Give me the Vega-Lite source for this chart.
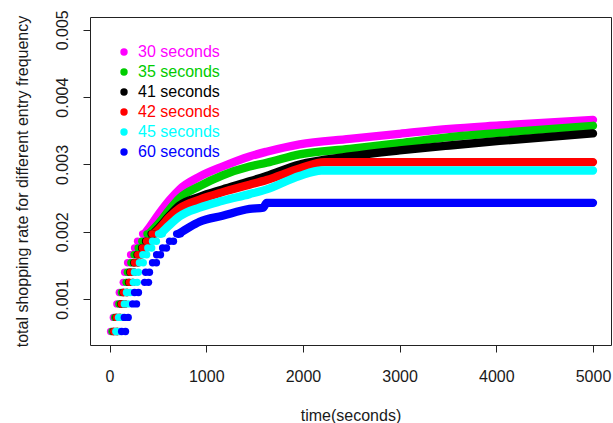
{
  "$schema": "https://vega.github.io/schema/vega-lite/v6.json",
  "width": 521,
  "height": 328,
  "autosize": {"type": "none"},
  "padding": {"left": 90, "top": 17, "right": 2, "bottom": 78},
  "background": "white",
  "config": {"view": {"stroke": "#222222", "strokeWidth": 1}, "font": "Liberation Sans"},
  "datasets": {
    "curves": [
      {"s": "30 seconds", "t": 362, "v": 0.00197}, {"s": "30 seconds", "t": 414, "v": 0.00207}, {"s": "30 seconds", "t": 517, "v": 0.00228}, {"s": "30 seconds", "t": 620, "v": 0.00247}, {"s": "30 seconds", "t": 724, "v": 0.00263}, {"s": "30 seconds", "t": 931, "v": 0.00282}, {"s": "30 seconds", "t": 1169, "v": 0.00297}, {"s": "30 seconds", "t": 1448, "v": 0.00312}, {"s": "30 seconds", "t": 1624, "v": 0.00319}, {"s": "30 seconds", "t": 1965, "v": 0.0033}, {"s": "30 seconds", "t": 2482, "v": 0.00338}, {"s": "30 seconds", "t": 2999, "v": 0.003456}, {"s": "30 seconds", "t": 3516, "v": 0.00353}, {"s": "30 seconds", "t": 4033, "v": 0.00358}, {"s": "30 seconds", "t": 5000, "v": 0.003664},
      {"s": "35 seconds", "t": 407, "v": 0.00197}, {"s": "35 seconds", "t": 517, "v": 0.00214}, {"s": "35 seconds", "t": 620, "v": 0.00233}, {"s": "35 seconds", "t": 724, "v": 0.0025}, {"s": "35 seconds", "t": 931, "v": 0.00268}, {"s": "35 seconds", "t": 1169, "v": 0.00284}, {"s": "35 seconds", "t": 1448, "v": 0.00297}, {"s": "35 seconds", "t": 1624, "v": 0.003025}, {"s": "35 seconds", "t": 1965, "v": 0.00315}, {"s": "35 seconds", "t": 2482, "v": 0.003233}, {"s": "35 seconds", "t": 2999, "v": 0.003318}, {"s": "35 seconds", "t": 3516, "v": 0.003407}, {"s": "35 seconds", "t": 4033, "v": 0.00347}, {"s": "35 seconds", "t": 5000, "v": 0.003575},
      {"s": "41 seconds", "t": 450, "v": 0.00197}, {"s": "41 seconds", "t": 517, "v": 0.00207}, {"s": "41 seconds", "t": 620, "v": 0.00224}, {"s": "41 seconds", "t": 724, "v": 0.00239}, {"s": "41 seconds", "t": 931, "v": 0.00252}, {"s": "41 seconds", "t": 1169, "v": 0.00263}, {"s": "41 seconds", "t": 1448, "v": 0.00275}, {"s": "41 seconds", "t": 1624, "v": 0.00283}, {"s": "41 seconds", "t": 1965, "v": 0.003}, {"s": "41 seconds", "t": 2482, "v": 0.00312}, {"s": "41 seconds", "t": 2999, "v": 0.003208}, {"s": "41 seconds", "t": 3516, "v": 0.003282}, {"s": "41 seconds", "t": 4033, "v": 0.00335}, {"s": "41 seconds", "t": 5000, "v": 0.003461},
      {"s": "42 seconds", "t": 460, "v": 0.00197}, {"s": "42 seconds", "t": 517, "v": 0.00205}, {"s": "42 seconds", "t": 620, "v": 0.00222}, {"s": "42 seconds", "t": 724, "v": 0.00235}, {"s": "42 seconds", "t": 931, "v": 0.00248}, {"s": "42 seconds", "t": 1169, "v": 0.00259}, {"s": "42 seconds", "t": 1448, "v": 0.0027}, {"s": "42 seconds", "t": 1624, "v": 0.00277}, {"s": "42 seconds", "t": 1965, "v": 0.00294}, {"s": "42 seconds", "t": 2223, "v": 0.003036}, {"s": "42 seconds", "t": 5000, "v": 0.003036},
      {"s": "45 seconds", "t": 527, "v": 0.00197}, {"s": "45 seconds", "t": 620, "v": 0.0021}, {"s": "45 seconds", "t": 724, "v": 0.00223}, {"s": "45 seconds", "t": 931, "v": 0.00236}, {"s": "45 seconds", "t": 1169, "v": 0.00246}, {"s": "45 seconds", "t": 1448, "v": 0.00256}, {"s": "45 seconds", "t": 1624, "v": 0.00263}, {"s": "45 seconds", "t": 1965, "v": 0.00283}, {"s": "45 seconds", "t": 2192, "v": 0.002911}, {"s": "45 seconds", "t": 5000, "v": 0.002911},
      {"s": "60 seconds", "t": 714, "v": 0.00197}, {"s": "60 seconds", "t": 827, "v": 0.00207}, {"s": "60 seconds", "t": 931, "v": 0.00215}, {"s": "60 seconds", "t": 1169, "v": 0.00224}, {"s": "60 seconds", "t": 1448, "v": 0.00234}, {"s": "60 seconds", "t": 1590, "v": 0.00236}, {"s": "60 seconds", "t": 1624, "v": 0.002431}, {"s": "60 seconds", "t": 5000, "v": 0.002431}
    ],
    "dots": [
      {"s": "30 seconds", "t": 1, "v": 0.00026}, {"s": "30 seconds", "t": 41, "v": 0.00026}, {"s": "30 seconds", "t": 11, "v": 0.00052}, {"s": "30 seconds", "t": 51, "v": 0.00052}, {"s": "30 seconds", "t": 39, "v": 0.00073}, {"s": "30 seconds", "t": 79, "v": 0.00073}, {"s": "30 seconds", "t": 76, "v": 0.00093}, {"s": "30 seconds", "t": 116, "v": 0.00093}, {"s": "30 seconds", "t": 101, "v": 0.0011}, {"s": "30 seconds", "t": 141, "v": 0.0011}, {"s": "30 seconds", "t": 142, "v": 0.00125}, {"s": "30 seconds", "t": 182, "v": 0.00125}, {"s": "30 seconds", "t": 156, "v": 0.0014}, {"s": "30 seconds", "t": 196, "v": 0.0014}, {"s": "30 seconds", "t": 187, "v": 0.00154}, {"s": "30 seconds", "t": 227, "v": 0.00154}, {"s": "30 seconds", "t": 218, "v": 0.00166}, {"s": "30 seconds", "t": 258, "v": 0.00166}, {"s": "30 seconds", "t": 259, "v": 0.00176}, {"s": "30 seconds", "t": 299, "v": 0.00176}, {"s": "30 seconds", "t": 290, "v": 0.00186}, {"s": "30 seconds", "t": 330, "v": 0.00186}, {"s": "30 seconds", "t": 342, "v": 0.00197}, {"s": "30 seconds", "t": 382, "v": 0.00197},
      {"s": "35 seconds", "t": 9, "v": 0.00026}, {"s": "35 seconds", "t": 49, "v": 0.00026}, {"s": "35 seconds", "t": 25, "v": 0.00052}, {"s": "35 seconds", "t": 65, "v": 0.00052}, {"s": "35 seconds", "t": 53, "v": 0.00073}, {"s": "35 seconds", "t": 93, "v": 0.00073}, {"s": "35 seconds", "t": 97, "v": 0.00093}, {"s": "35 seconds", "t": 137, "v": 0.00093}, {"s": "35 seconds", "t": 122, "v": 0.0011}, {"s": "35 seconds", "t": 162, "v": 0.0011}, {"s": "35 seconds", "t": 171, "v": 0.00125}, {"s": "35 seconds", "t": 211, "v": 0.00125}, {"s": "35 seconds", "t": 184, "v": 0.0014}, {"s": "35 seconds", "t": 224, "v": 0.0014}, {"s": "35 seconds", "t": 221, "v": 0.00154}, {"s": "35 seconds", "t": 261, "v": 0.00154}, {"s": "35 seconds", "t": 253, "v": 0.00166}, {"s": "35 seconds", "t": 293, "v": 0.00166}, {"s": "35 seconds", "t": 296, "v": 0.00176}, {"s": "35 seconds", "t": 336, "v": 0.00176}, {"s": "35 seconds", "t": 334, "v": 0.00186}, {"s": "35 seconds", "t": 374, "v": 0.00186}, {"s": "35 seconds", "t": 387, "v": 0.00197}, {"s": "35 seconds", "t": 427, "v": 0.00197},
      {"s": "41 seconds", "t": 16, "v": 0.00026}, {"s": "41 seconds", "t": 56, "v": 0.00026}, {"s": "41 seconds", "t": 40, "v": 0.00052}, {"s": "41 seconds", "t": 80, "v": 0.00052}, {"s": "41 seconds", "t": 68, "v": 0.00073}, {"s": "41 seconds", "t": 108, "v": 0.00073}, {"s": "41 seconds", "t": 117, "v": 0.00093}, {"s": "41 seconds", "t": 157, "v": 0.00093}, {"s": "41 seconds", "t": 140, "v": 0.0011}, {"s": "41 seconds", "t": 180, "v": 0.0011}, {"s": "41 seconds", "t": 197, "v": 0.00125}, {"s": "41 seconds", "t": 237, "v": 0.00125}, {"s": "41 seconds", "t": 211, "v": 0.0014}, {"s": "41 seconds", "t": 251, "v": 0.0014}, {"s": "41 seconds", "t": 252, "v": 0.00154}, {"s": "41 seconds", "t": 292, "v": 0.00154}, {"s": "41 seconds", "t": 285, "v": 0.00166}, {"s": "41 seconds", "t": 325, "v": 0.00166}, {"s": "41 seconds", "t": 332, "v": 0.00176}, {"s": "41 seconds", "t": 372, "v": 0.00176}, {"s": "41 seconds", "t": 373, "v": 0.00186}, {"s": "41 seconds", "t": 413, "v": 0.00186}, {"s": "41 seconds", "t": 430, "v": 0.00197}, {"s": "41 seconds", "t": 470, "v": 0.00197},
      {"s": "42 seconds", "t": 18, "v": 0.00026}, {"s": "42 seconds", "t": 58, "v": 0.00026}, {"s": "42 seconds", "t": 43, "v": 0.00052}, {"s": "42 seconds", "t": 83, "v": 0.00052}, {"s": "42 seconds", "t": 71, "v": 0.00073}, {"s": "42 seconds", "t": 111, "v": 0.00073}, {"s": "42 seconds", "t": 122, "v": 0.00093}, {"s": "42 seconds", "t": 162, "v": 0.00093}, {"s": "42 seconds", "t": 145, "v": 0.0011}, {"s": "42 seconds", "t": 185, "v": 0.0011}, {"s": "42 seconds", "t": 204, "v": 0.00125}, {"s": "42 seconds", "t": 244, "v": 0.00125}, {"s": "42 seconds", "t": 217, "v": 0.0014}, {"s": "42 seconds", "t": 257, "v": 0.0014}, {"s": "42 seconds", "t": 259, "v": 0.00154}, {"s": "42 seconds", "t": 299, "v": 0.00154}, {"s": "42 seconds", "t": 293, "v": 0.00166}, {"s": "42 seconds", "t": 333, "v": 0.00166}, {"s": "42 seconds", "t": 340, "v": 0.00176}, {"s": "42 seconds", "t": 380, "v": 0.00176}, {"s": "42 seconds", "t": 383, "v": 0.00186}, {"s": "42 seconds", "t": 423, "v": 0.00186}, {"s": "42 seconds", "t": 440, "v": 0.00197}, {"s": "42 seconds", "t": 480, "v": 0.00197},
      {"s": "45 seconds", "t": 30, "v": 0.00026}, {"s": "45 seconds", "t": 70, "v": 0.00026}, {"s": "45 seconds", "t": 65, "v": 0.00052}, {"s": "45 seconds", "t": 105, "v": 0.00052}, {"s": "45 seconds", "t": 93, "v": 0.00073}, {"s": "45 seconds", "t": 133, "v": 0.00073}, {"s": "45 seconds", "t": 153, "v": 0.00093}, {"s": "45 seconds", "t": 193, "v": 0.00093}, {"s": "45 seconds", "t": 175, "v": 0.0011}, {"s": "45 seconds", "t": 215, "v": 0.0011}, {"s": "45 seconds", "t": 246, "v": 0.00125}, {"s": "45 seconds", "t": 286, "v": 0.00125}, {"s": "45 seconds", "t": 258, "v": 0.0014}, {"s": "45 seconds", "t": 298, "v": 0.0014}, {"s": "45 seconds", "t": 309, "v": 0.00154}, {"s": "45 seconds", "t": 349, "v": 0.00154}, {"s": "45 seconds", "t": 344, "v": 0.00166}, {"s": "45 seconds", "t": 384, "v": 0.00166}, {"s": "45 seconds", "t": 396, "v": 0.00176}, {"s": "45 seconds", "t": 436, "v": 0.00176}, {"s": "45 seconds", "t": 445, "v": 0.00186}, {"s": "45 seconds", "t": 485, "v": 0.00186}, {"s": "45 seconds", "t": 507, "v": 0.00197}, {"s": "45 seconds", "t": 547, "v": 0.00197},
      {"s": "60 seconds", "t": 63, "v": 0.00026}, {"s": "60 seconds", "t": 103, "v": 0.00026}, {"s": "60 seconds", "t": 125, "v": 0.00052}, {"s": "60 seconds", "t": 165, "v": 0.00052}, {"s": "60 seconds", "t": 153, "v": 0.00073}, {"s": "60 seconds", "t": 193, "v": 0.00073}, {"s": "60 seconds", "t": 239, "v": 0.00093}, {"s": "60 seconds", "t": 279, "v": 0.00093}, {"s": "60 seconds", "t": 259, "v": 0.0011}, {"s": "60 seconds", "t": 299, "v": 0.0011}, {"s": "60 seconds", "t": 363, "v": 0.00125}, {"s": "60 seconds", "t": 403, "v": 0.00125}, {"s": "60 seconds", "t": 373, "v": 0.0014}, {"s": "60 seconds", "t": 413, "v": 0.0014}, {"s": "60 seconds", "t": 445, "v": 0.00154}, {"s": "60 seconds", "t": 485, "v": 0.00154}, {"s": "60 seconds", "t": 487, "v": 0.00166}, {"s": "60 seconds", "t": 527, "v": 0.00166}, {"s": "60 seconds", "t": 549, "v": 0.00176}, {"s": "60 seconds", "t": 589, "v": 0.00176}, {"s": "60 seconds", "t": 621, "v": 0.00186}, {"s": "60 seconds", "t": 661, "v": 0.00186}, {"s": "60 seconds", "t": 694, "v": 0.00197}, {"s": "60 seconds", "t": 734, "v": 0.00197}
    ]
  },
  "encoding": {
    "x": {
      "field": "t", "type": "quantitative",
      "scale": {"domain": [-202, 5186], "nice": false, "zero": false},
      "axis": {
        "title": "time(seconds)", "values": [0, 1000, 2000, 3000, 4000, 5000], "format": "d",
        "grid": false, "domain": false, "ticks": true, "tickSize": 7, "tickColor": "#222222", "tickWidth": 1,
        "labelFont": "Liberation Sans", "labelFontSize": 16, "labelColor": "#1a1a1a", "labelPadding": 16,
        "labelBaseline": "top", "labelFlush": false, "labelOverlap": false,
        "titleFont": "Liberation Sans", "titleFontSize": 16, "titleFontWeight": "normal", "titleColor": "#1a1a1a",
        "titleBaseline": "middle", "titleY": 70
      }
    },
    "y": {
      "field": "v", "type": "quantitative",
      "scale": {"domain": [0.00032, 0.00519], "nice": false, "zero": false},
      "axis": {
        "title": "total shopping rate for different entry frequency", "values": [0.001, 0.002, 0.003, 0.004, 0.005], "format": ".3f",
        "grid": false, "domain": false, "ticks": true, "tickSize": 7, "tickColor": "#222222", "tickWidth": 1,
        "labelFont": "Liberation Sans", "labelFontSize": 16, "labelColor": "#1a1a1a", "labelPadding": 16,
        "labelAngle": -90, "labelAlign": "center", "labelBaseline": "alphabetic", "labelFlush": false, "labelOverlap": false,
        "titleFont": "Liberation Sans", "titleFontSize": 16, "titleFontWeight": "normal", "titleColor": "#1a1a1a",
        "titleAngle": -90, "titleBaseline": "middle", "titleX": -68
      }
    },
    "color": {
      "field": "s", "type": "nominal",
      "scale": {
        "domain": ["30 seconds", "35 seconds", "41 seconds", "42 seconds", "45 seconds", "60 seconds"],
        "range": ["#ff00ff", "#00cd00", "#000000", "#ff0000", "#00ffff", "#0000ff"]
      },
      "legend": {
        "title": null, "orient": "none", "legendX": 26, "legendY": 27, "padding": 0,
        "symbolType": "circle", "symbolSize": 55, "symbolStrokeWidth": 0, "symbolOpacity": 1,
        "labelFont": "Liberation Sans", "labelFontSize": 16, "labelOffset": 6, "rowPadding": 4,
        "labelColor": {"expr": "scale('color', datum.value)"}
      }
    }
  },
  "layer": [
    {
      "data": {"name": "curves"},
      "mark": {"type": "line", "strokeWidth": 8.3, "strokeCap": "round", "strokeJoin": "round", "interpolate": "monotone", "clip": true}
    },
    {
      "data": {"name": "dots"},
      "mark": {"type": "circle", "size": 55, "opacity": 1, "clip": true}
    }
  ]
}
